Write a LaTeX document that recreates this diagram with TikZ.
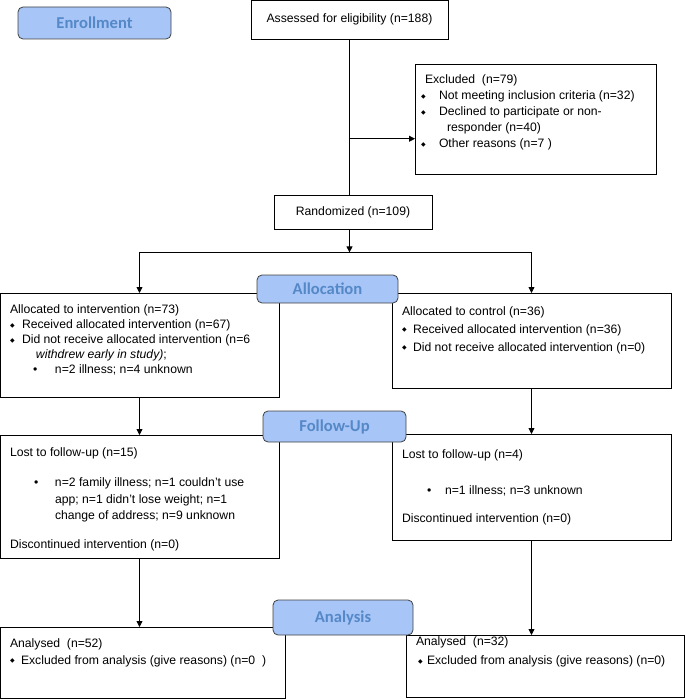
\documentclass[tikz,border=0pt]{standalone}
\usepackage{fontspec}
\setmainfont{Liberation Sans}
\newfontfamily\lblfont{Carlito}
\newfontfamily\symfont{DejaVu Sans}
\usepackage{xcolor}
\usetikzlibrary{arrows.meta,positioning,calc}
\definecolor{stageblue}{RGB}{168,197,247}
\definecolor{stagetext}{RGB}{84,136,199}
\newcommand{\boxtxt}[4]{\parbox[t][#2][t]{#1}{\raggedright\leftskip=10pt\vspace*{#3}#4}}
\newcommand{\dia}[1][12pt]{\makebox[#1][l]{\raisebox{1.6pt}{\symfont\fontsize{6}{6}\selectfont ◆}}}
\newcommand{\bul}[1]{\makebox[#1][l]{•}}

\begin{document}
\begin{tikzpicture}[x=1pt, y=-1pt,
  every node/.style={font=\fontsize{12.2}{16}\selectfont},
  box/.style={draw, line width=0.8pt, anchor=north west, inner sep=0pt, outer sep=0pt},
  stage/.style={draw=black!75, line width=0.8pt, fill=stageblue, rounded corners=5pt, inner sep=0pt, text=stagetext, font=\lblfont\bfseries\fontsize{16.6}{18}\selectfont},
  arr/.style={-{Triangle[width=6pt,length=6pt]}, line width=0.8pt}]
\useasboundingbox (0,0) rectangle (685,700);

% enrollment
\node[draw, line width=0.8pt, minimum width=197pt, minimum height=38.5pt, inner sep=0pt] (assess) at (349.5,19.75) {Assessed for eligibility (n=188)};
\node[box] (excl) at (415,64) {\boxtxt{241pt}{110pt}{11pt}{Excluded\ \ (n=79)\\
  \hspace*{-4pt}\dia[18pt]Not meeting inclusion criteria (n=32)\\
  \hspace*{-4pt}\dia[18pt]Declined to participate or non-\\
  \hspace*{22pt}responder (n=40)\\
  \hspace*{-4pt}\dia[18pt]Other reasons (n=7\ )}};
\node[draw, line width=0.8pt, minimum width=158pt, minimum height=34pt, inner sep=0pt] (rand) at (353,212) {Randomized (n=109)};

% allocation
\node[box] (allocL) at (0,293) {\boxtxt{279pt}{104pt}{12pt}{Allocated to intervention (n=73)\\[-1pt]
  \dia Received allocated intervention (n=67)\\[-1pt]
  \dia Did not receive allocated intervention (n=6\\[-1pt]
  \hspace*{26pt}\textit{withdrew early in study)};\\[-1pt]
  \hspace*{23pt}\bul{22pt}n=2 illness; n=4 unknown}};
\node[box] (allocR) at (392,293) {\boxtxt{279pt}{95pt}{13.5pt}{Allocated to control (n=36)\\[2pt]
  \dia[11pt]Received allocated intervention (n=36)\\[2pt]
  \dia[11pt]Did not receive allocated intervention (n=0)}};

% follow-up
\node[box] (fuL) at (0,435) {\boxtxt{279pt}{123pt}{13pt}{Lost to follow-up (n=15)\\[14pt]
  \hspace*{24pt}\bul{21pt}n=2 family illness; n=1 couldn’t use\\[0.5pt]
  \hspace*{45pt}app; n=1 didn’t lose weight; n=1\\[0.5pt]
  \hspace*{45pt}change of address; n=9 unknown\\[13pt]
  Discontinued intervention (n=0)}};
\node[box] (fuR) at (392,434) {\boxtxt{279pt}{106pt}{16pt}{Lost to follow-up (n=4)\\[20pt]
  \hspace*{25pt}\bul{18pt}n=1 illness; n=3 unknown\\[12pt]
  Discontinued intervention (n=0)}};

% analysis
\node[box] (anL) at (0,627) {\boxtxt{285pt}{71pt}{11.5pt}{Analysed\ \ (n=52)\\[1pt]
  \dia[11pt]Excluded from analysis (give reasons) (n=0\ \ )}};
\node[box] (anR) at (406,635) {\boxtxt{278pt}{62pt}{2pt}{Analysed\ \ (n=32)\\[3pt]
  \hspace*{2pt}\dia[9pt]Excluded from analysis (give reasons) (n=0)}};

% connectors
\draw[line width=0.8pt] (assess.south) -- (assess.south |- rand.north);
\draw[arr] ($(assess.south)!0.64!(assess.south |- rand.north)$) coordinate (br) -- (br -| excl.west);
\path (assess.south |- rand.south) ++(0,23) coordinate (split);
\draw[arr] (assess.south |- rand.south) -- (split);
\draw[arr] (split) -| (allocL.north);
\draw[arr] (split) -| (allocR.north);
\draw[arr] (allocL.south) -- (fuL.north);
\draw[arr] (allocR.south) -- (fuR.north);
\draw[arr] (fuL.south) -- (fuL.south |- anL.north);
\draw[arr] (fuR.south) -- (fuR.south |- anR.north);

% stage labels
\node[stage, minimum width=153pt, minimum height=32pt] (enroll) at (94.5,23) {Enrollment};
\node[stage, minimum width=141pt, minimum height=28pt] (alloc) at (327.5,289) {Allocation};
\node[stage, minimum width=143pt, minimum height=31pt] (follow) at (334.5,426.5) {Follow-Up};
\node[stage, minimum width=140pt, minimum height=35pt] (anal) at (343,617.5) {Analysis};
\end{tikzpicture}
\end{document}
